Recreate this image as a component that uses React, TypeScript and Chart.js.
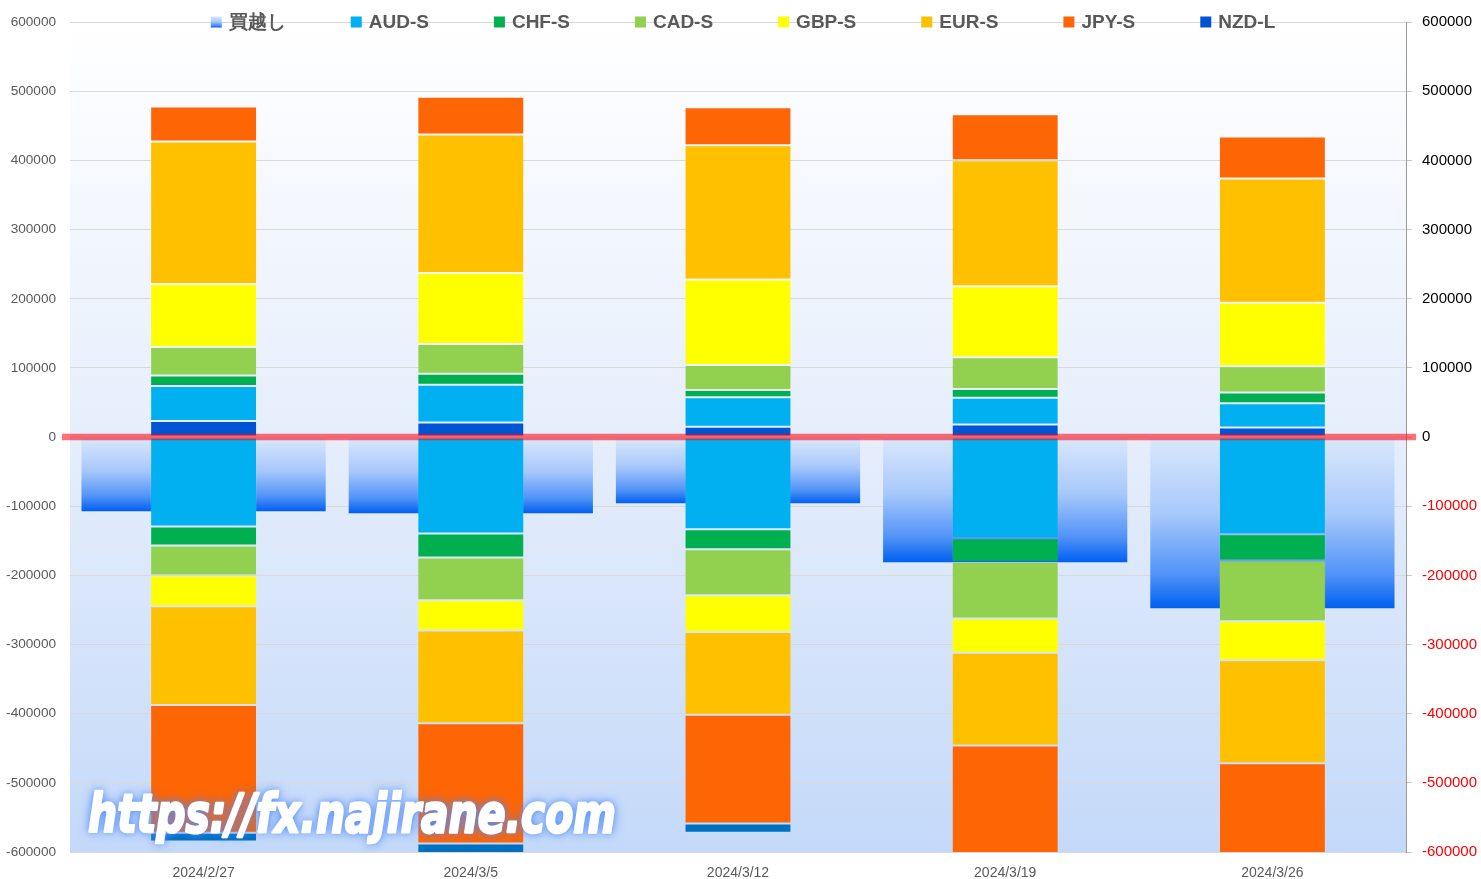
import React, { useEffect, useRef } from "react";
import { Chart, registerables } from "chart.js";

Chart.register(...registerables);

// ---- data ----
const categories = ["2024/2/27", "2024/3/5", "2024/3/12", "2024/3/19", "2024/3/26"];
const yTicks = [-600000, -500000, -400000, -300000, -200000, -100000, 0, 100000, 200000, 300000, 400000, 500000, 600000];

const netBuy = [-107300, -110000, -95600, -181000, -247500];

// upper stack
const nzdL = [23100, 21100, 14900, 18200, 13800];
const audUp = [50900, 54400, 42800, 38500, 35200];
const chfUp = [14900, 15900, 10500, 13000, 15300];
const cadUp = [41400, 43300, 36100, 45700, 38100];
const gbpUp = [90900, 102400, 123600, 102800, 91700];
const eurUp = [206300, 200500, 194100, 182200, 179900];
const jpyUp = [50500, 54400, 54800, 66300, 60600];

// lower stack
const audDown = [-129400, -139500, -133300, -146200, -140500];
const chfDown = [-27400, -34600, -28800, -34000, -37900];
const cadDown = [-43300, -62000, -66800, -82200, -88000];
const gbpDown = [-44700, -43700, -52900, -49600, -56300];
const eurDown = [-142800, -134100, -119700, -134100, -149000];
const jpyDown = [-184600, -173700, -157200, -188000, -196500];
const nzdDown = [-12500, -13800, -13400, -13500, -13600];

const COLORS = {
  aud: "#00b0f0",
  chf: "#00b050",
  cad: "#92d050",
  gbp: "#ffff00",
  eur: "#ffc000",
  jpy: "#fe6505",
  nzdL: "#0055d4",
  nzdS: "#0070c0",
};

const FONT = '"Liberation Sans", Arial, sans-serif';
const WATERMARK = "https://fx.najirane.com";

function netGradient(ctx: CanvasRenderingContext2D, y0: number, y1: number) {
  const g = ctx.createLinearGradient(0, y0, 0, y1);
  g.addColorStop(0, "#dbe8fc");
  g.addColorStop(0.45, "#a8c8fb");
  g.addColorStop(0.8, "#5193f7");
  g.addColorStop(1, "#0060f0");
  return g;
}

const bgPlugin = {
  id: "plotBg",
  beforeDraw(chart: any) {
    const { ctx, chartArea } = chart;
    if (!chartArea) return;
    ctx.save();
    const g = ctx.createLinearGradient(0, chartArea.top, 0, chartArea.bottom);
    g.addColorStop(0, "#ffffff");
    g.addColorStop(0.5, "#e6eefc");
    g.addColorStop(1, "#c4d9f9");
    ctx.fillStyle = g;
    ctx.fillRect(chartArea.left, chartArea.top, chartArea.right - chartArea.left, chartArea.bottom - chartArea.top);
    ctx.restore();
  },
};

const zeroLinePlugin = {
  id: "zeroLine",
  afterDatasetsDraw(chart: any) {
    const { ctx, chartArea, scales } = chart;
    const y = scales.y.getPixelForValue(0);
    ctx.save();
    ctx.strokeStyle = "rgba(255,0,12,0.56)";
    ctx.lineWidth = 6.5;
    ctx.beginPath();
    ctx.moveTo(chartArea.left - 8, y);
    ctx.lineTo(chartArea.right + 10, y);
    ctx.stroke();
    ctx.restore();
  },
};

const watermarkPlugin = {
  id: "watermark",
  afterDraw(chart: any) {
    const { ctx, chartArea } = chart;
    ctx.save();
    ctx.font = `italic bold 50px "DejaVu Sans", ${FONT}`;
    const w = ctx.measureText(WATERMARK).width;
    ctx.translate(chartArea.left + 18, chartArea.bottom - 20);
    ctx.scale(528 / w, 1.08);
    ctx.textBaseline = "alphabetic";
    ctx.fillStyle = "#ffffff";
    ctx.strokeStyle = "#ffffff";
    ctx.lineJoin = "round";
    ctx.lineWidth = 2.4;
    ctx.shadowColor = "rgba(80,140,255,0.95)";
    ctx.shadowBlur = 12;
    ctx.fillText(WATERMARK, 0, 0);
    ctx.shadowBlur = 6;
    ctx.fillText(WATERMARK, 0, 0);
    ctx.shadowBlur = 0;
    ctx.strokeText(WATERMARK, 0, 0);
    ctx.restore();
  },
};

const legendOrder = [0, 2, 3, 4, 5, 6, 7, 1];

const legendPlugin = {
  id: "customLegend",
  afterDraw(chart: any) {
    const { ctx, chartArea } = chart;
    const ds = chart.data.datasets;
    ctx.save();
    ctx.font = `bold 19px ${FONT}`;
    const box = 11;
    const gap = 7;
    const spacing = 65;
    const widths = legendOrder.map((i) => box + gap + ctx.measureText(ds[i].label).width);
    const total = widths.reduce((a, b) => a + b, 0) + spacing * (widths.length - 1);
    let x = (chartArea.left + chartArea.right) / 2 + 5 - total / 2;
    const cy = 22;
    legendOrder.forEach((i, k) => {
      const d = ds[i];
      if (typeof d.backgroundColor === "function") {
        ctx.fillStyle = netGradient(ctx, cy - box / 2, cy + box / 2);
      } else {
        ctx.fillStyle = d.backgroundColor;
      }
      ctx.fillRect(x, cy - box / 2, box, box);
      ctx.fillStyle = "#595959";
      ctx.textBaseline = "middle";
      ctx.textAlign = "left";
      ctx.fillText(d.label, x + box + gap, cy + 1);
      x += widths[k] + spacing;
    });
    ctx.restore();
  },
};

function stackDs(label: string, data: number[], color: string) {
  return {
    label,
    data,
    backgroundColor: color,
    borderColor: "rgba(255,255,255,0.1)",
    borderWidth: 1,
    borderSkipped: false,
    stack: "main",
    barPercentage: 0.4,
    categoryPercentage: 1,
    grouped: false,
    order: 0,
  };
}

export default function App() {
  const ref = useRef<HTMLCanvasElement | null>(null);

  useEffect(() => {
    if (!ref.current) return;
    const chart = new Chart(ref.current, {
      type: "bar",
      data: {
        labels: categories,
        datasets: [
          {
            label: "買越し",
            data: netBuy,
            backgroundColor: (c: any) => {
              const ch = c.chart;
              if (!ch.chartArea || c.type !== "data") return "#8ab8f9";
              const y0 = ch.scales.y.getPixelForValue(0);
              const y1 = ch.scales.y.getPixelForValue(c.raw);
              return netGradient(ch.ctx, y0, y1);
            },
            borderWidth: 0,
            stack: "net",
            barPercentage: 0.914,
            categoryPercentage: 1,
            grouped: false,
            order: 1,
          } as any,
          stackDs("NZD-L", nzdL, COLORS.nzdL),
          stackDs("AUD-S", audUp, COLORS.aud),
          stackDs("CHF-S", chfUp, COLORS.chf),
          stackDs("CAD-S", cadUp, COLORS.cad),
          stackDs("GBP-S", gbpUp, COLORS.gbp),
          stackDs("EUR-S", eurUp, COLORS.eur),
          stackDs("JPY-S", jpyUp, COLORS.jpy),
          stackDs("AUD-L", audDown, COLORS.aud),
          stackDs("CHF-L", chfDown, COLORS.chf),
          stackDs("CAD-L", cadDown, COLORS.cad),
          stackDs("GBP-L", gbpDown, COLORS.gbp),
          stackDs("EUR-L", eurDown, COLORS.eur),
          stackDs("JPY-L", jpyDown, COLORS.jpy),
          stackDs("NZD-S", nzdDown, COLORS.nzdS),
        ],
      },
      options: {
        animation: false,
        responsive: true,
        maintainAspectRatio: false,
        layout: { padding: { top: 20, left: 0, right: 0, bottom: 0 } },
        plugins: {
          legend: { display: false },
          tooltip: { enabled: false },
        },
        scales: {
          x: {
            stacked: true,
            grid: { display: false, drawTicks: false },
            border: { display: false },
            ticks: { color: "#595959", font: { family: FONT, size: 14 }, padding: 13 },
            afterFit: (s: any) => {
              s.height = 27;
            },
          },
          y: {
            stacked: true,
            position: "left",
            min: -600000,
            max: 600000,
            afterBuildTicks: (s: any) => {
              s.ticks = yTicks.map((v) => ({ value: v }));
            },
            grid: { color: "#d9d9d9", lineWidth: 1, drawTicks: false },
            border: { display: false },
            ticks: {
              color: "#595959",
              font: { family: FONT, size: 13.6 },
              padding: 14,
              callback: (v: any) => String(v),
            },
            afterFit: (s: any) => {
              s.width = 70;
            },
          },
          y2: {
            position: "right",
            min: -600000,
            max: 600000,
            afterBuildTicks: (s: any) => {
              s.ticks = yTicks.map((v) => ({ value: v }));
            },
            grid: { drawOnChartArea: false, drawTicks: true, tickLength: 6, tickColor: "#c8c8c8" },
            border: { display: true, color: "#9a9a9a", width: 1 },
            ticks: {
              color: (c: any) => (c.tick && c.tick.value < 0 ? "#ff0000" : "#000000"),
              font: { family: FONT, size: 15 },
              padding: 10,
              callback: (v: any) => String(v),
            },
            afterFit: (s: any) => {
              s.width = 75;
            },
          },
        },
      },
      plugins: [bgPlugin, zeroLinePlugin, watermarkPlugin, legendPlugin],
    } as any);
    return () => chart.destroy();
  }, []);

  return (
    <div style={{ position: "absolute", left: 0, top: 0, width: 1481, height: 879, background: "#ffffff" }}>
      <canvas ref={ref} />
    </div>
  );
}
